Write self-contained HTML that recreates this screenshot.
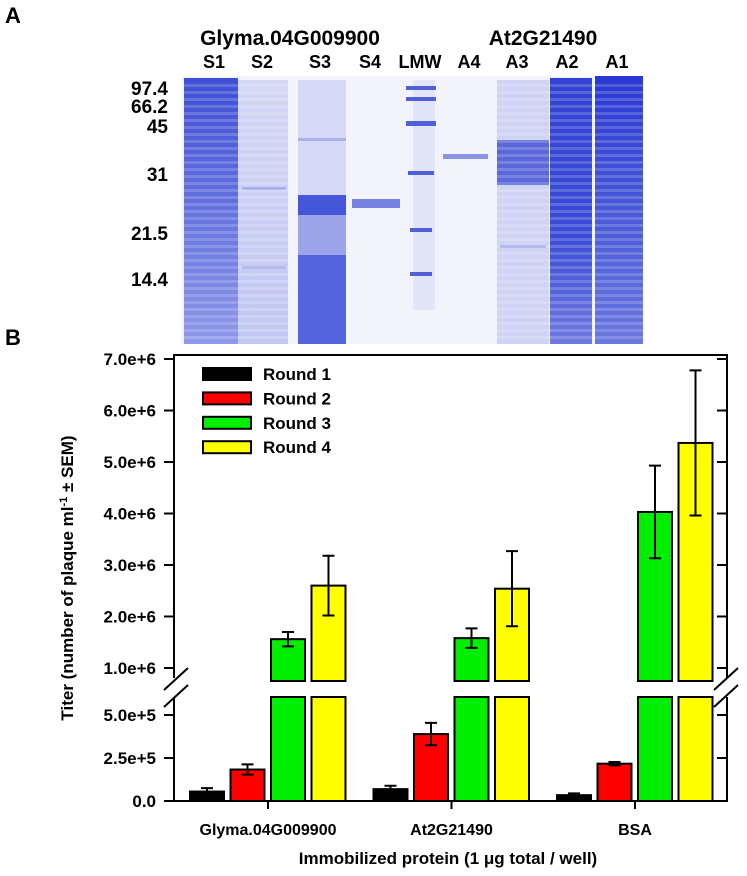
<!DOCTYPE html>
<html><head><meta charset="utf-8"><style>
body{margin:0;background:#fff;width:747px;height:876px;overflow:hidden}
svg{display:block}
text{font-family:"Liberation Sans",sans-serif;font-weight:bold}
</style></head><body>
<svg id="fig" width="747" height="876">
<defs>
<linearGradient id="lane" x1="0" y1="0" x2="0" y2="1">
<stop offset="0" stop-color="#3f50d6"/><stop offset="0.5" stop-color="#6472de"/><stop offset="1" stop-color="#8f99ea"/></linearGradient>
<linearGradient id="lane2" x1="0" y1="0" x2="0" y2="1">
<stop offset="0" stop-color="#d4d7f5"/><stop offset="1" stop-color="#c2c7f2"/></linearGradient>
<linearGradient id="laneA2" x1="0" y1="0" x2="0" y2="1">
<stop offset="0" stop-color="#3142d4"/><stop offset="0.6" stop-color="#3c4cd6"/><stop offset="1" stop-color="#6e7be0"/></linearGradient>
<linearGradient id="laneA1" x1="0" y1="0" x2="0" y2="1">
<stop offset="0" stop-color="#2838d2"/><stop offset="0.5" stop-color="#4858d8"/><stop offset="1" stop-color="#6a78e0"/></linearGradient>
</defs>
<g>
<text x="5" y="23" font-size="22">A</text>
<text x="290" y="45" font-size="21" text-anchor="middle" font-weight="normal">Glyma.04G009900</text>
<text x="543" y="45" font-size="21" text-anchor="middle" font-weight="normal">At2G21490</text>
<g font-size="18" text-anchor="middle" font-weight="normal">
<text x="214" y="68">S1</text><text x="262" y="68">S2</text><text x="320" y="68">S3</text><text x="370" y="68">S4</text><text x="420" y="68">LMW</text><text x="469" y="68">A4</text><text x="517" y="68">A3</text><text x="567" y="68">A2</text><text x="617" y="68">A1</text></g>
<g font-size="19" text-anchor="end">
<text x="168" y="95">97.4</text><text x="168" y="113">66.2</text><text x="168" y="133">45</text><text x="168" y="181">31</text><text x="168" y="240">21.5</text><text x="168" y="286">14.4</text></g>
<g>
<rect x="181" y="76" width="462" height="268" fill="#f2f3fb"/>
<rect x="184" y="78" width="54" height="266" fill="url(#lane)"/>
<rect x="238" y="80" width="50" height="264" fill="url(#lane2)"/>
<rect x="242" y="187" width="44" height="3" fill="#a7aeec"/>
<rect x="242" y="266" width="44" height="3" fill="#a7aeec"/>
<rect x="298" y="80" width="48" height="264" fill="#d6d9f6"/>
<rect x="298" y="138" width="48" height="3" fill="#a9b0ec"/>
<rect x="298" y="195" width="48" height="20" fill="#4656d8"/>
<rect x="298" y="215" width="48" height="40" fill="#9ca5ea"/>
<rect x="298" y="255" width="48" height="89" fill="#5564dc"/>
<rect x="352" y="199" width="48" height="9" fill="#7582e2"/>
<rect x="413" y="80" width="22" height="230" fill="#e2e4f8"/>
<g fill="#5060d8"><rect x="406" y="86" width="30" height="4"/><rect x="406" y="97" width="30" height="4"/><rect x="406" y="121" width="30" height="5"/><rect x="408" y="171" width="26" height="4"/><rect x="410" y="228" width="22" height="4"/><rect x="410" y="272" width="22" height="4"/></g>
<rect x="443" y="154" width="45" height="5" fill="#8a94e6"/>
<rect x="497" y="80" width="52" height="264" fill="#cfd3f4"/>
<rect x="497" y="140" width="52" height="45" fill="#5a68dc"/>
<rect x="500" y="245" width="46" height="3" fill="#a3abeb"/>
<rect x="550" y="78" width="42" height="266" fill="url(#laneA2)"/>
<rect x="595" y="76" width="48" height="268" fill="url(#laneA1)"/>
<g id="stripes" fill="#ffffff" opacity="0.18"></g>
</g>
</g>
<text x="5" y="345" font-size="22">B</text>
<g id="chart"></g>
</svg>
<script>
(function(){const s=document.getElementById('stripes');
[[184,54],[238,50],[497,52],[550,42],[595,48]].forEach(([x,w])=>{
 for(let y=84;y<340;y+=7){const r=document.createElementNS("http://www.w3.org/2000/svg",'rect');
  r.setAttribute('x',x);r.setAttribute('y',y);r.setAttribute('width',w);r.setAttribute('height',3);s.appendChild(r);}});})();
</script>
<script>
const categories=["Glyma.04G009900","At2G21490","BSA"];
const seriesNames=["Round 1","Round 2","Round 3","Round 4"];
const colors=["#000000","#ff0000","#00ee00","#ffff00"];
const round1=[55000,69000,34000];
const round2=[183000,389000,217000];
const round3=[1560000,1580000,4030000];
const round4=[2600000,2540000,5370000];
const err1=[20000,20000,10000];
const err2=[30000,65000,10000];
const err3=[140000,190000,900000];
const err4=[580000,730000,1410000];
const upperTicks=[1e6,2e6,3e6,4e6,5e6,6e6,7e6];
const upperLabels=["1.0e+6","2.0e+6","3.0e+6","4.0e+6","5.0e+6","6.0e+6","7.0e+6"];
const lowerTicks=[0,250000,500000];
const lowerLabels=["0.0","2.5e+5","5.0e+5"];
const series=[round1,round2,round3,round4];
const errs=[err1,err2,err3,err4];
const NS="http://www.w3.org/2000/svg";
const g=document.getElementById('chart');
const L=174,R=727,T=355,B=801,UB=681,LT=697;
const LOWMAX=600000;
function yLow(v){return B-v*172/1e6;}
function yUp(v){return 668-(v-1e6)*51.5/1e6;}
function yv(v){return v<=LOWMAX?yLow(v):yUp(v);}
function xBar(c,s){return 190+c*183.5+s*40.5;}
function el(tag,a,parent){const e=document.createElementNS(NS,tag);for(const k in a)e.setAttribute(k,a[k]);(parent||g).appendChild(e);return e;}
let f=el('path',{d:`M${L},${B}V${LT}M${L},${UB-3}V${T}H${R}V${UB-3}M${R},${LT}V${B}H${L}`,fill:'none',stroke:'#000','stroke-width':2});


let br=el('path',{d:`M164,690L188,668M164,707L188,685M714,690L738,668M714,707L738,685`,stroke:'#000','stroke-width':2});


upperTicks.forEach((v,i)=>{const y=yUp(v);
 el('line',{x1:L-10,x2:L,y1:y,y2:y,stroke:'#000','stroke-width':2});
 el('line',{x1:R-10,x2:R,y1:y,y2:y,stroke:'#000','stroke-width':2});
 const t=el('text',{x:156,y:y+6,'text-anchor':'end','font-size':17});t.textContent=upperLabels[i];
 
 });
lowerTicks.forEach((v,i)=>{const y=yLow(v);
 el('line',{x1:L-10,x2:L,y1:y,y2:y,stroke:'#000','stroke-width':2});
 el('line',{x1:R-10,x2:R,y1:y,y2:y,stroke:'#000','stroke-width':2});
 const t=el('text',{x:156,y:y+6,'text-anchor':'end','font-size':17});t.textContent=lowerLabels[i];
 
 });
categories.forEach((c,ci)=>{
 const cx=xBar(ci,0)+78;
 el('line',{x1:cx,x2:cx,y1:B,y2:B+8,stroke:'#000','stroke-width':2});
 const t=el('text',{x:cx,y:835,'text-anchor':'middle','font-size':16});t.textContent=c;
 
 
 series.forEach((s,si)=>{
  const v=s[ci],x=xBar(ci,si),w=34;
  if(v<=LOWMAX){
   const r=el('rect',{x:x,y:yLow(v),width:w,height:B-yLow(v),fill:colors[si],stroke:'#000','stroke-width':2});
   
   
  }else{
   const r1=el('rect',{x:x,y:LT,width:w,height:B-LT,fill:colors[si],stroke:'#000','stroke-width':2});
   
   
   const r2=el('rect',{x:x,y:yUp(v),width:w,height:UB-yUp(v),fill:colors[si],stroke:'#000','stroke-width':2});
   
   
  }
  const e=errs[si][ci],mx=x+w/2,y1=yv(v+e),y2=yv(Math.max(0,v-e));
  const eb=el('path',{d:`M${mx},${y1}V${y2}M${mx-6},${y1}H${mx+6}M${mx-6},${y2}H${mx+6}`,stroke:'#000','stroke-width':2,fill:'none'});
  
  
 });
});
seriesNames.forEach((n,i)=>{const y=368+i*24.4;
 const r=el('rect',{x:203,y:y,width:48,height:12,fill:colors[i],stroke:'#000','stroke-width':2});
 
 
 const t=el('text',{x:263,y:y+12,'font-size':17});t.textContent=n;
 
 });
const yt=el('text',{x:0,y:0,'font-size':17,'text-anchor':'middle',transform:'translate(73,578) rotate(-90)'});
yt.innerHTML='Titer (number of plaque ml<tspan dy="-6" font-size="11">-1</tspan><tspan dy="6"> ± SEM)</tspan>';


const xt=el('text',{x:448,y:864,'font-size':17,'text-anchor':'middle'});
xt.textContent='Immobilized protein (1 μg total / well)';


</script>
</body></html>
